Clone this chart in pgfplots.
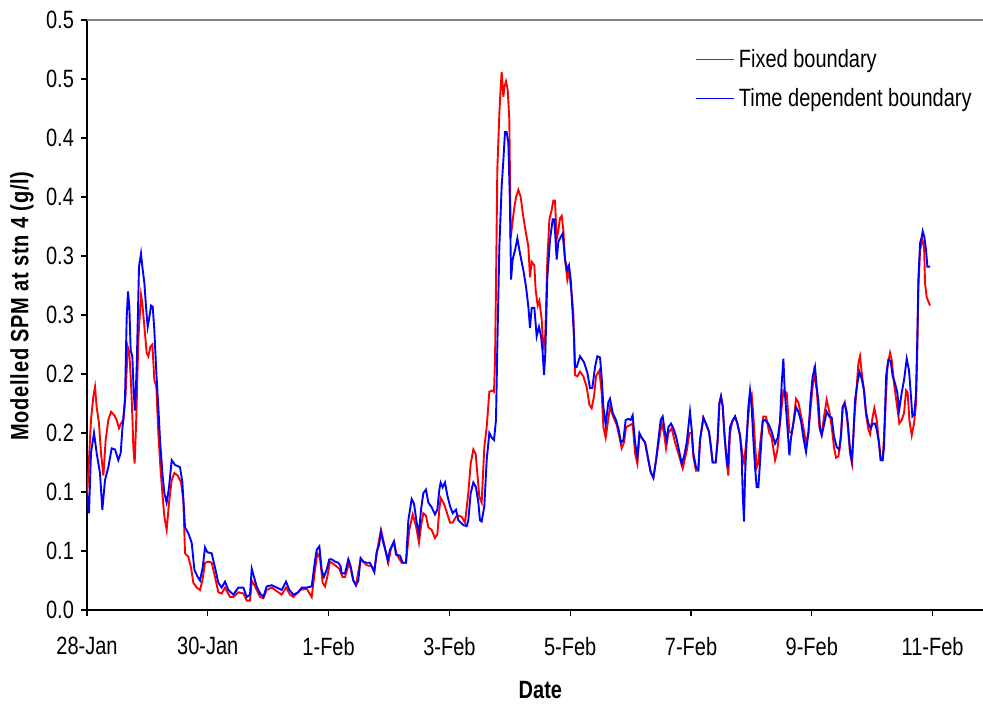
\documentclass[border=0pt]{standalone}
\usepackage{fontspec}
\setmainfont{Liberation Sans}[FakeStretch=0.8]
\newfontfamily\ylabfont{Liberation Sans}[FakeStretch=0.8,LetterSpace=3]
\usepackage{pgfplots}
\pgfplotsset{compat=1.18}
\begin{document}
\begin{tikzpicture}
\begin{axis}[
  name=ax,
  scale only axis,
  width=448pt, height=295pt,
  xmin=0, xmax=14.834, ymin=0, ymax=0.5,
  axis lines=left,
  axis line style={-, line width=0.75pt},
  tick align=outside,
  major tick length=3pt,
  tick style={line width=0.6pt, black},
  xtick={0,2,4,6,8,10,12,14},
  xticklabels={28-Jan,30-Jan,1-Feb,3-Feb,5-Feb,7-Feb,9-Feb,11-Feb},
  ytick={0,0.05,0.1,0.15,0.2,0.25,0.3,0.35,0.4,0.45,0.5},
  yticklabels={0.0,0.1,0.1,0.2,0.2,0.3,0.3,0.4,0.4,0.5,0.5},
  /pgf/number format/assume math mode=true,
  ticklabel style={font=\fontsize{12.5}{15}\selectfont},
  xticklabel style={yshift=-7pt},
  xlabel={\bfseries Date},
  xlabel style={at={(rel axis cs:0.506,0)}, anchor=center, yshift=-40pt, font=\fontsize{12.5}{15}\selectfont},
  ylabel={\ylabfont\bfseries Modelled SPM at stn 4 (g/l)},
  ylabel style={at={(rel axis cs:0,0.515)}, anchor=center, rotate=0, yshift=32.5pt, font=\fontsize{12.5}{15}\selectfont},
  legend style={at={(rel axis cs:0.679,0.958)}, anchor=north west, draw=none, fill=none,
    font=\fontsize{12.5}{15}\selectfont, row sep=5pt, inner sep=0pt},
  legend cell align=left,
  legend image code/.code={\draw[#1] (0pt,0pt) -- (19pt,0pt);},
]
\draw[gray, line width=0.75pt] (rel axis cs:0,1) -- (rel axis cs:1,1);
\addplot[color=red, line width=0.95pt, legend image post style={line width=0.55pt, color=red}] coordinates {
(0.000,0.095)(0.022,0.116)(0.066,0.161)(0.105,0.181)(0.133,0.189)(0.160,0.172)(0.199,0.158)(0.232,0.133)(0.271,0.114)(0.309,0.144)
(0.353,0.161)(0.398,0.168)(0.453,0.165)(0.491,0.161)(0.530,0.154)(0.563,0.158)(0.602,0.161)(0.640,0.184)(0.674,0.223)(0.701,0.218)
(0.729,0.192)(0.751,0.164)(0.767,0.138)(0.789,0.124)(0.817,0.164)(0.850,0.229)(0.894,0.267)(0.916,0.260)(0.950,0.240)(0.988,0.218)
(1.016,0.215)(1.049,0.223)(1.082,0.225)(1.115,0.195)(1.148,0.189)(1.181,0.150)(1.215,0.121)(1.248,0.099)(1.281,0.079)(1.319,0.068)
(1.358,0.091)(1.402,0.110)(1.446,0.116)(1.502,0.114)(1.557,0.108)(1.595,0.093)(1.623,0.048)(1.678,0.045)(1.722,0.036)(1.761,0.023)
(1.816,0.019)(1.871,0.017)(1.910,0.025)(1.954,0.040)(2.020,0.041)(2.064,0.040)(2.119,0.028)(2.175,0.015)(2.230,0.014)(2.285,0.019)
(2.368,0.011)(2.423,0.011)(2.506,0.015)(2.589,0.014)(2.644,0.008)(2.699,0.008)(2.727,0.025)(2.782,0.020)(2.865,0.011)(2.920,0.010)
(2.975,0.017)(3.058,0.019)(3.141,0.016)(3.223,0.013)(3.295,0.019)(3.361,0.013)(3.417,0.011)(3.527,0.017)(3.637,0.018)(3.720,0.011)
(3.775,0.034)(3.814,0.048)(3.858,0.044)(3.901,0.023)(3.940,0.020)(3.978,0.028)(4.023,0.041)(4.105,0.038)(4.177,0.035)(4.232,0.028)
(4.271,0.028)(4.343,0.040)(4.409,0.025)(4.453,0.021)(4.530,0.043)(4.630,0.038)(4.713,0.037)(4.757,0.034)(4.806,0.051)(4.867,0.068)
(4.906,0.059)(4.950,0.048)(4.989,0.040)(5.027,0.051)(5.082,0.058)(5.127,0.047)(5.209,0.040)(5.281,0.040)(5.336,0.068)(5.392,0.081)
(5.447,0.071)(5.496,0.057)(5.530,0.071)(5.568,0.082)(5.612,0.080)(5.651,0.070)(5.706,0.068)(5.761,0.061)(5.800,0.064)(5.833,0.085)
(5.855,0.095)(5.910,0.090)(5.955,0.083)(6.010,0.074)(6.054,0.074)(6.109,0.079)(6.148,0.080)(6.203,0.079)(6.258,0.074)(6.313,0.099)
(6.352,0.124)(6.396,0.136)(6.435,0.132)(6.462,0.116)(6.495,0.096)(6.534,0.091)(6.578,0.138)(6.617,0.155)(6.661,0.185)(6.711,0.186)
(6.738,0.185)(6.755,0.212)(6.771,0.274)(6.793,0.373)(6.827,0.421)(6.849,0.443)(6.865,0.456)(6.893,0.435)(6.909,0.443)(6.937,0.448)
(6.965,0.441)(6.992,0.415)(7.014,0.315)(7.036,0.325)(7.069,0.339)(7.103,0.350)(7.141,0.356)(7.180,0.350)(7.224,0.333)(7.268,0.319)
(7.307,0.308)(7.334,0.282)(7.362,0.295)(7.406,0.292)(7.428,0.271)(7.461,0.258)(7.489,0.262)(7.528,0.246)(7.555,0.220)(7.588,0.234)
(7.621,0.297)(7.655,0.331)(7.693,0.339)(7.721,0.347)(7.748,0.347)(7.776,0.314)(7.804,0.322)(7.831,0.332)(7.859,0.334)(7.886,0.322)
(7.914,0.297)(7.952,0.280)(7.980,0.288)(8.024,0.268)(8.052,0.251)(8.079,0.199)(8.118,0.198)(8.162,0.202)(8.217,0.198)(8.273,0.189)
(8.317,0.174)(8.355,0.171)(8.394,0.181)(8.427,0.198)(8.482,0.203)(8.521,0.184)(8.549,0.155)(8.587,0.146)(8.620,0.158)(8.659,0.172)
(8.703,0.165)(8.769,0.157)(8.813,0.147)(8.852,0.137)(8.891,0.142)(8.924,0.155)(9.001,0.157)(9.034,0.158)(9.073,0.133)(9.112,0.124)
(9.145,0.147)(9.183,0.146)(9.239,0.142)(9.294,0.127)(9.332,0.117)(9.377,0.112)(9.421,0.127)(9.476,0.146)(9.515,0.158)(9.553,0.150)
(9.586,0.137)(9.625,0.150)(9.680,0.154)(9.735,0.142)(9.807,0.130)(9.862,0.120)(9.929,0.135)(9.973,0.150)(10.011,0.150)(10.038,0.130)
(10.082,0.118)(10.121,0.118)(10.149,0.144)(10.204,0.163)(10.298,0.151)(10.358,0.125)(10.408,0.125)(10.441,0.144)(10.469,0.175)(10.496,0.181)
(10.524,0.173)(10.552,0.150)(10.590,0.125)(10.618,0.114)(10.645,0.150)(10.684,0.160)(10.728,0.164)(10.767,0.158)(10.811,0.148)(10.855,0.130)
(10.877,0.125)(10.910,0.140)(10.949,0.165)(10.977,0.180)(11.004,0.183)(11.032,0.165)(11.060,0.140)(11.087,0.121)(11.115,0.125)(11.142,0.140)
(11.197,0.164)(11.241,0.164)(11.297,0.150)(11.335,0.146)(11.391,0.127)(11.429,0.135)(11.473,0.158)(11.529,0.186)(11.584,0.184)(11.628,0.151)
(11.667,0.150)(11.694,0.158)(11.738,0.179)(11.777,0.176)(11.860,0.155)(11.904,0.141)(11.943,0.150)(11.981,0.172)(12.036,0.201)(12.080,0.187)
(12.125,0.155)(12.163,0.149)(12.202,0.164)(12.246,0.178)(12.290,0.168)(12.329,0.155)(12.367,0.138)(12.401,0.129)(12.439,0.130)(12.483,0.147)
(12.511,0.172)(12.544,0.176)(12.588,0.160)(12.632,0.133)(12.666,0.124)(12.699,0.160)(12.732,0.181)(12.770,0.209)(12.798,0.215)(12.826,0.201)
(12.864,0.186)(12.897,0.166)(12.936,0.153)(12.964,0.149)(13.008,0.164)(13.035,0.171)(13.074,0.161)(13.113,0.141)(13.140,0.127)(13.173,0.127)
(13.212,0.164)(13.251,0.206)(13.295,0.218)(13.322,0.212)(13.361,0.192)(13.405,0.175)(13.449,0.158)(13.488,0.161)(13.527,0.167)(13.560,0.186)
(13.587,0.184)(13.615,0.161)(13.654,0.148)(13.692,0.158)(13.725,0.175)(13.747,0.223)(13.764,0.274)(13.792,0.305)(13.830,0.314)(13.858,0.308)
(13.874,0.277)(13.902,0.265)(13.957,0.258)
};
\addlegendentry{Fixed boundary}
\addplot[color=blue, line width=0.95pt, legend image post style={line width=0.55pt, color=blue}] coordinates {
(0.000,0.099)(0.033,0.082)(0.066,0.133)(0.116,0.150)(0.160,0.133)(0.215,0.116)(0.254,0.085)(0.298,0.110)(0.353,0.121)(0.409,0.137)
(0.464,0.136)(0.519,0.127)(0.558,0.133)(0.585,0.153)(0.629,0.178)(0.657,0.248)(0.679,0.270)(0.701,0.257)(0.723,0.220)(0.751,0.215)
(0.773,0.184)(0.795,0.169)(0.823,0.206)(0.861,0.291)(0.894,0.302)(0.916,0.291)(0.950,0.277)(0.977,0.257)(1.005,0.240)(1.032,0.248)
(1.060,0.258)(1.088,0.257)(1.115,0.237)(1.148,0.201)(1.181,0.172)(1.209,0.144)(1.248,0.116)(1.281,0.099)(1.319,0.091)(1.358,0.104)
(1.402,0.127)(1.457,0.123)(1.540,0.121)(1.579,0.108)(1.623,0.070)(1.678,0.065)(1.733,0.057)(1.778,0.034)(1.833,0.028)(1.871,0.025)
(1.915,0.036)(1.954,0.053)(1.992,0.049)(2.064,0.048)(2.119,0.036)(2.175,0.023)(2.230,0.019)(2.285,0.024)(2.340,0.017)(2.423,0.013)
(2.506,0.019)(2.589,0.019)(2.644,0.011)(2.699,0.013)(2.727,0.035)(2.765,0.028)(2.809,0.020)(2.865,0.014)(2.920,0.011)(2.975,0.020)
(3.058,0.021)(3.141,0.019)(3.223,0.017)(3.295,0.024)(3.350,0.017)(3.417,0.013)(3.499,0.015)(3.555,0.019)(3.637,0.019)(3.720,0.020)
(3.775,0.042)(3.803,0.051)(3.847,0.054)(3.885,0.034)(3.923,0.028)(3.967,0.034)(4.012,0.043)(4.050,0.043)(4.105,0.041)(4.161,0.040)
(4.199,0.037)(4.216,0.031)(4.271,0.031)(4.326,0.043)(4.365,0.037)(4.409,0.025)(4.453,0.021)(4.492,0.025)(4.530,0.044)(4.575,0.041)
(4.630,0.040)(4.685,0.040)(4.713,0.037)(4.757,0.032)(4.795,0.049)(4.834,0.055)(4.867,0.066)(4.906,0.057)(4.950,0.049)(4.978,0.042)
(5.016,0.051)(5.082,0.058)(5.116,0.047)(5.182,0.046)(5.226,0.040)(5.281,0.040)(5.320,0.076)(5.375,0.094)(5.414,0.090)(5.458,0.074)
(5.496,0.065)(5.530,0.085)(5.568,0.099)(5.612,0.102)(5.651,0.091)(5.706,0.087)(5.761,0.081)(5.800,0.085)(5.833,0.102)(5.855,0.108)
(5.888,0.104)(5.927,0.108)(5.966,0.097)(6.010,0.088)(6.054,0.082)(6.109,0.085)(6.148,0.076)(6.230,0.072)(6.286,0.071)(6.313,0.076)
(6.352,0.099)(6.396,0.108)(6.440,0.104)(6.479,0.091)(6.506,0.076)(6.534,0.075)(6.578,0.088)(6.617,0.127)(6.661,0.150)(6.700,0.146)
(6.738,0.144)(6.771,0.161)(6.793,0.223)(6.827,0.308)(6.865,0.359)(6.893,0.381)(6.920,0.405)(6.948,0.405)(6.976,0.396)(7.003,0.342)
(7.020,0.280)(7.047,0.297)(7.086,0.305)(7.125,0.315)(7.169,0.302)(7.224,0.288)(7.268,0.274)(7.307,0.257)(7.334,0.239)(7.362,0.256)
(7.406,0.256)(7.445,0.232)(7.483,0.240)(7.517,0.232)(7.544,0.218)(7.566,0.199)(7.588,0.218)(7.621,0.282)(7.666,0.314)(7.710,0.331)
(7.737,0.331)(7.776,0.297)(7.804,0.312)(7.842,0.316)(7.875,0.319)(7.914,0.297)(7.952,0.288)(7.980,0.292)(8.008,0.280)(8.041,0.251)
(8.063,0.232)(8.079,0.206)(8.107,0.206)(8.162,0.215)(8.228,0.210)(8.284,0.201)(8.328,0.188)(8.366,0.188)(8.411,0.206)(8.449,0.215)
(8.493,0.214)(8.521,0.197)(8.549,0.172)(8.587,0.157)(8.631,0.176)(8.659,0.179)(8.703,0.167)(8.758,0.161)(8.797,0.154)(8.841,0.142)
(8.880,0.144)(8.918,0.161)(8.963,0.162)(9.001,0.161)(9.034,0.165)(9.073,0.142)(9.112,0.130)(9.145,0.150)(9.183,0.146)(9.239,0.142)
(9.294,0.127)(9.332,0.117)(9.377,0.112)(9.421,0.127)(9.459,0.144)(9.498,0.161)(9.531,0.164)(9.570,0.150)(9.597,0.144)(9.625,0.155)
(9.669,0.158)(9.708,0.154)(9.752,0.147)(9.791,0.138)(9.846,0.124)(9.884,0.130)(9.929,0.142)(9.956,0.155)(9.983,0.168)(10.011,0.153)
(10.038,0.133)(10.082,0.121)(10.121,0.119)(10.149,0.144)(10.176,0.153)(10.204,0.163)(10.248,0.158)(10.298,0.151)(10.331,0.138)(10.358,0.125)
(10.408,0.125)(10.441,0.144)(10.469,0.175)(10.496,0.181)(10.524,0.173)(10.552,0.150)(10.579,0.133)(10.607,0.121)(10.645,0.155)(10.684,0.160)
(10.728,0.164)(10.767,0.158)(10.811,0.148)(10.839,0.130)(10.855,0.099)(10.877,0.075)(10.894,0.113)(10.921,0.144)(10.949,0.172)(10.977,0.186)
(11.004,0.172)(11.032,0.144)(11.060,0.121)(11.087,0.104)(11.115,0.104)(11.142,0.125)(11.186,0.160)(11.225,0.161)(11.280,0.158)(11.335,0.151)
(11.391,0.141)(11.435,0.146)(11.473,0.160)(11.501,0.192)(11.529,0.213)(11.551,0.186)(11.584,0.163)(11.611,0.144)(11.628,0.131)(11.656,0.146)
(11.694,0.158)(11.738,0.172)(11.777,0.168)(11.821,0.160)(11.860,0.146)(11.904,0.134)(11.943,0.150)(11.981,0.180)(12.014,0.198)(12.053,0.206)
(12.080,0.189)(12.108,0.178)(12.136,0.153)(12.163,0.148)(12.202,0.157)(12.246,0.168)(12.290,0.164)(12.329,0.163)(12.367,0.147)(12.412,0.138)
(12.456,0.136)(12.483,0.149)(12.511,0.172)(12.544,0.175)(12.577,0.168)(12.605,0.153)(12.632,0.136)(12.660,0.127)(12.688,0.147)(12.715,0.178)
(12.754,0.192)(12.787,0.202)(12.826,0.196)(12.864,0.186)(12.897,0.168)(12.936,0.158)(12.975,0.154)(13.008,0.158)(13.046,0.158)(13.074,0.153)
(13.113,0.141)(13.140,0.127)(13.173,0.127)(13.195,0.138)(13.229,0.198)(13.267,0.212)(13.306,0.211)(13.339,0.198)(13.378,0.192)(13.416,0.184)
(13.444,0.169)(13.488,0.184)(13.527,0.195)(13.571,0.213)(13.609,0.203)(13.637,0.184)(13.665,0.164)(13.698,0.166)(13.725,0.184)(13.747,0.232)
(13.764,0.280)(13.792,0.311)(13.819,0.316)(13.836,0.321)(13.863,0.316)(13.891,0.305)(13.913,0.291)(13.957,0.291)
};
\addlegendentry{Time dependent boundary}
\end{axis}
\pgfresetboundingbox
\path ([shift={(-43.5pt,-47pt)}]ax.south west) rectangle ([shift={(0pt,10pt)}]ax.north east);
\end{tikzpicture}
\end{document}
